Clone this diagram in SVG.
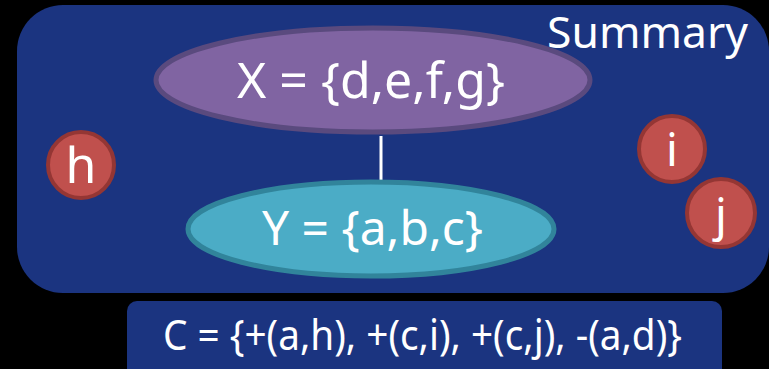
<svg xmlns="http://www.w3.org/2000/svg" width="769" height="369" viewBox="0 0 769 369">
<style>
.t{fill:#ffffff;font-family:"Noto Sans","Open Sans",sans-serif;}
.red{fill:#c0504d;stroke:#943634;stroke-width:4;}
.box{fill:#1b3480;}
</style>
<rect width="769" height="369" fill="#000000"/>
<g id="summary">
<rect class="box" x="17" y="5" width="752" height="288" rx="46" ry="46"/>
<text class="t" x="547" y="48" font-size="43" textLength="201" lengthAdjust="spacingAndGlyphs">Summary</text>
</g>
<g id="connectors">
<line x1="381" y1="136" x2="381" y2="182" stroke="#ffffff" stroke-width="3"/>
</g>
<g id="X">
<ellipse cx="373" cy="80" rx="217" ry="52" fill="#8064a2" stroke="#5a4a7e" stroke-width="5"/>
<text class="t" x="237" y="98" font-size="50" textLength="268" lengthAdjust="spacingAndGlyphs">X = {d,e,f,g}</text>
</g>
<g id="Y">
<ellipse cx="371" cy="229" rx="183" ry="47" fill="#4bacc6" stroke="#31849b" stroke-width="5"/>
<text class="t" x="262" y="245" font-size="48" textLength="221" lengthAdjust="spacingAndGlyphs">Y = {a,b,c}</text>
</g>
<g id="h">
<circle class="red" cx="81" cy="165" r="33"/>
<text class="t" x="81" y="183" font-size="50" text-anchor="middle">h</text>
</g>
<g id="i">
<circle class="red" cx="672" cy="149" r="33"/>
<text class="t" x="672" y="166" font-size="46" text-anchor="middle">i</text>
</g>
<g id="j">
<circle class="red" cx="721" cy="213" r="34"/>
<text class="t" x="721" y="231" font-size="46" text-anchor="middle">j</text>
</g>
<g id="C">
<rect class="box" x="127" y="301" width="595" height="80" rx="10" ry="10"/>
<text class="t" x="163" y="350" font-size="41" textLength="519" lengthAdjust="spacingAndGlyphs">C = {+(a,h), +(c,i), +(c,j), -(a,d)}</text>
</g>
</svg>
